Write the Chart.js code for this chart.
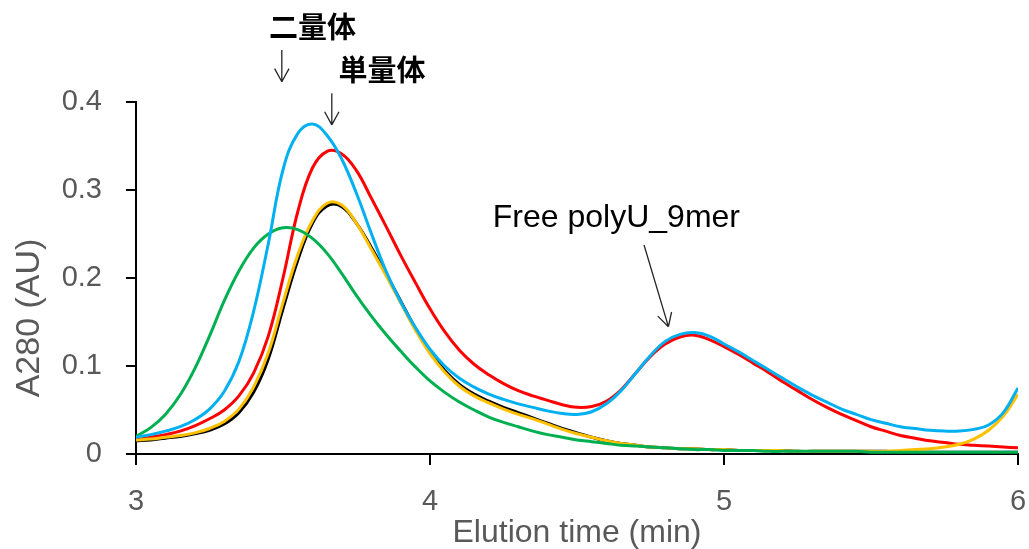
<!DOCTYPE html>
<html>
<head>
<meta charset="utf-8">
<script src="https://cdn.jsdelivr.net/npm/chart.js@4.4.1/dist/chart.umd.min.js"></script>
<style>
  html, body { margin: 0; padding: 0; background: #fff; }
  #wrap { width: 1029px; height: 549px; position: relative; }
</style>
</head>
<body>
<div id="wrap"><canvas id="chart"></canvas></div>
<script>
// elution time (min), every 0.05 min, shared by every trace
const elutionTime = [
  3.0, 3.05, 3.1, 3.15, 3.2, 3.25, 3.3, 3.35, 3.4, 3.45,
  3.5, 3.55, 3.6, 3.65, 3.7, 3.75, 3.8, 3.85, 3.9, 3.95,
  4.0, 4.05, 4.1, 4.15, 4.2, 4.25, 4.3, 4.35, 4.4, 4.45,
  4.5, 4.55, 4.6, 4.65, 4.7, 4.75, 4.8, 4.85, 4.9, 4.95,
  5.0, 5.05, 5.1, 5.15, 5.2, 5.25, 5.3, 5.35, 5.4, 5.45,
  5.5, 5.55, 5.6, 5.65, 5.7, 5.75, 5.8, 5.85, 5.9, 5.95,
  6.0
];

// A280 traces
const traceBlue = [
  0.019, 0.022, 0.026, 0.031, 0.039, 0.051, 0.071, 0.105, 0.162, 0.239,
  0.323, 0.364, 0.375, 0.362, 0.335, 0.296, 0.251, 0.208, 0.173, 0.144,
  0.119, 0.100, 0.086, 0.076, 0.068, 0.062, 0.057, 0.053, 0.049, 0.046,
  0.045, 0.048, 0.057, 0.072, 0.092, 0.112, 0.128, 0.136, 0.138, 0.134,
  0.125, 0.116, 0.106, 0.096, 0.086, 0.076, 0.067, 0.059, 0.051, 0.045,
  0.039, 0.035, 0.031, 0.029, 0.027, 0.026, 0.026, 0.028, 0.033, 0.047,
  0.075
];
const traceRed = [
  0.016, 0.019, 0.022, 0.026, 0.032, 0.040, 0.050, 0.066, 0.092, 0.134,
  0.200, 0.275, 0.325, 0.344, 0.341, 0.322, 0.291, 0.259, 0.226, 0.195,
  0.165, 0.139, 0.118, 0.102, 0.090, 0.080, 0.072, 0.066, 0.061, 0.056,
  0.053, 0.054, 0.060, 0.073, 0.092, 0.111, 0.125, 0.133, 0.135, 0.130,
  0.122, 0.113, 0.103, 0.093, 0.082, 0.072, 0.062, 0.053, 0.045, 0.038,
  0.031, 0.026, 0.021, 0.018, 0.015, 0.013, 0.011, 0.010, 0.009, 0.008,
  0.007
];
const traceBlack = [
  0.015, 0.016, 0.018, 0.020, 0.023, 0.027, 0.034, 0.047, 0.070, 0.108,
  0.165, 0.220, 0.262, 0.282, 0.281, 0.262, 0.235, 0.205, 0.174, 0.143,
  0.116, 0.095, 0.079, 0.068, 0.060, 0.053, 0.047, 0.041, 0.035, 0.029,
  0.024, 0.019, 0.015, 0.012, 0.010, 0.008, 0.007, 0.006, 0.006, 0.005,
  0.005, 0.004, 0.004, 0.004, 0.004, 0.003, 0.003, 0.003, 0.003, 0.003,
  0.003, 0.003, 0.002, 0.002, 0.002, 0.002, 0.002, 0.002, 0.002, 0.002,
  0.002
];
const traceYellow = [
  0.016, 0.017, 0.019, 0.021, 0.024, 0.029, 0.037, 0.051, 0.076, 0.115,
  0.172, 0.226, 0.265, 0.285, 0.283, 0.262, 0.233, 0.203, 0.172, 0.141,
  0.114, 0.093, 0.077, 0.066, 0.058, 0.051, 0.045, 0.040, 0.034, 0.028,
  0.023, 0.019, 0.015, 0.012, 0.010, 0.008, 0.007, 0.006, 0.006, 0.005,
  0.005, 0.004, 0.004, 0.004, 0.004, 0.003, 0.003, 0.003, 0.003, 0.003,
  0.003, 0.003, 0.004, 0.005, 0.006, 0.008, 0.011, 0.017, 0.027, 0.043,
  0.068
];
const traceGreen = [
  0.020, 0.030, 0.045, 0.067, 0.097, 0.134, 0.174, 0.208, 0.234, 0.250,
  0.257, 0.255, 0.245, 0.228, 0.205, 0.180, 0.157, 0.136, 0.117, 0.099,
  0.083, 0.070, 0.059, 0.050, 0.042, 0.036, 0.031, 0.026, 0.022, 0.019,
  0.016, 0.014, 0.012, 0.010, 0.009, 0.008, 0.007, 0.006, 0.005, 0.005,
  0.004, 0.004, 0.004, 0.003, 0.003, 0.003, 0.003, 0.003, 0.003, 0.003,
  0.002, 0.002, 0.002, 0.002, 0.002, 0.002, 0.002, 0.002, 0.002, 0.002,
  0.002
];

const xTicks = [3, 4, 5, 6];
const yTicks = [0, 0.1, 0.2, 0.3, 0.4];

// labels and arrows, in data units
const labels = [
  { text: '二量体', x: 3.60, y: 0.485, cjk: true },
  { text: '単量体', x: 3.837, y: 0.436, cjk: true },
  { text: 'Free polyU_9mer', x: 4.634, y: 0.258, cjk: false }
];
const arrows = [
  { x1: 3.496, y1: 0.459, x2: 3.496, y2: 0.423 },
  { x1: 3.666, y1: 0.410, x2: 3.666, y2: 0.374 },
  { x1: 4.728, y1: 0.2375, x2: 4.811, y2: 0.1447 }
];

const SANS = '"Liberation Sans", Arial, sans-serif';
const GREY = '#595959';

function toPoints(ys) {
  return elutionTime.map((t, i) => ({ x: t, y: ys[i] }));
}

function trace(values, color) {
  return {
    data: toPoints(values),
    borderColor: color,
    backgroundColor: color,
    borderWidth: 3,
    pointRadius: 0,
    tension: 0.4,
    fill: false
  };
}

const annotate = {
  id: 'annotate',
  afterDraw(chart) {
    const ctx = chart.ctx;
    const xs = chart.scales.x, ys = chart.scales.y;
    const area = chart.chartArea;
    ctx.save();

    // arrows
    ctx.strokeStyle = '#262626';
    ctx.lineWidth = 1.3;
    arrows.forEach(a => {
      const x1 = xs.getPixelForValue(a.x1), y1 = ys.getPixelForValue(a.y1);
      const x2 = xs.getPixelForValue(a.x2), y2 = ys.getPixelForValue(a.y2);
      const ang = Math.atan2(y2 - y1, x2 - x1);
      ctx.beginPath();
      ctx.moveTo(x1, y1);
      ctx.lineTo(x2, y2);
      [-0.5, 0.5].forEach(d => {
        ctx.moveTo(x2, y2);
        ctx.lineTo(x2 - 15 * Math.cos(ang + d), y2 - 15 * Math.sin(ang + d));
      });
      ctx.stroke();
    });

    // text labels
    ctx.fillStyle = '#000';
    ctx.textAlign = 'center';
    labels.forEach(l => {
      const px = xs.getPixelForValue(l.x), py = ys.getPixelForValue(l.y);
      if (l.cjk) {
        ctx.font = 'bold 29px "Noto Sans CJK JP", sans-serif';
        ctx.textBaseline = 'middle';
      } else {
        ctx.font = '32px ' + SANS;
        ctx.textBaseline = 'alphabetic';
      }
      ctx.fillText(l.text, px, py);
    });

    // axis titles
    ctx.fillStyle = GREY;
    ctx.font = '32px ' + SANS;
    ctx.textBaseline = 'alphabetic';
    ctx.fillText('Elution time (min)', (area.left + area.right) / 2, area.bottom + 88);

    ctx.translate(area.left - 106, (area.top + area.bottom) / 2 + 40);
    ctx.rotate(-Math.PI / 2);
    ctx.font = '34px ' + SANS;
    ctx.textBaseline = 'middle';
    ctx.fillText('A280 (AU)', 0, 0);
    ctx.restore();
  }
};

new Chart(document.getElementById('chart'), {
  type: 'line',
  data: {
    datasets: [
      trace(traceBlue, '#00B0F0'),
      trace(traceGreen, '#00B050'),
      trace(traceYellow, '#FFC000'),
      trace(traceBlack, '#000000'),
      trace(traceRed, '#FF0000')
    ]
  },
  options: {
    responsive: true,
    maintainAspectRatio: false,
    animation: false,
    layout: { padding: { top: 102, right: 11, left: 0, bottom: 0 } },
    plugins: { legend: { display: false }, tooltip: { enabled: false } },
    scales: {
      x: {
        type: 'linear',
        min: 3, max: 6,
        afterBuildTicks: s => { s.ticks = xTicks.map(v => ({ value: v })); },
        afterFit: s => { s.height = 95; s.paddingLeft = 0; s.paddingRight = 0; },
        grid: { drawOnChartArea: false, drawTicks: true, tickLength: 11, color: '#000', lineWidth: 2 },
        border: { display: true, color: '#000', width: 2 },
        ticks: { color: GREY, font: { family: SANS, size: 29 }, padding: 20, maxRotation: 0 }
      },
      y: {
        min: 0, max: 0.4,
        afterBuildTicks: s => { s.ticks = yTicks.map(v => ({ value: v })); },
        afterFit: s => { s.width = 136; },
        grid: { drawOnChartArea: false, drawTicks: true, tickLength: 10, color: '#000', lineWidth: 2 },
        border: { display: true, color: '#000', width: 2 },
        ticks: { color: GREY, font: { family: SANS, size: 29 }, padding: 24,
          callback: v => (v === 0 ? '0' : v.toFixed(1)) }
      }
    }
  },
  plugins: [annotate]
});
</script>
</body>
</html>
